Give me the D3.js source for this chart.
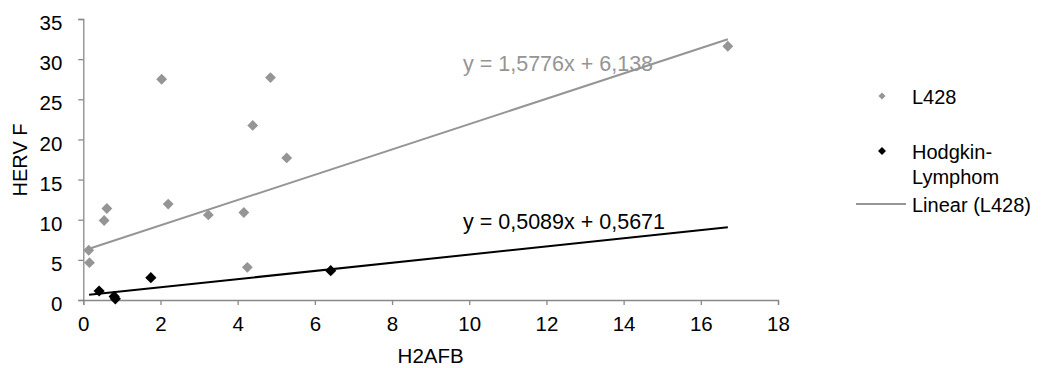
<!DOCTYPE html>
<html>
<head>
<meta charset="utf-8">
<script src="https://cdn.jsdelivr.net/npm/d3@7"></script>
<style>
  html, body { margin: 0; padding: 0; background: #fff; }
  svg { display: block; font-family: "Liberation Sans", Arial, sans-serif; }
</style>
</head>
<body>
<svg id="chart" width="1043" height="368"></svg>
<script>
// L428 cell line measurements
const l428X = [0.14, 0.16, 0.54, 0.61, 2.03, 2.2, 3.24, 4.16, 4.25, 4.39, 4.85, 5.27, 16.7];
const l428Y = [6.2, 4.65, 9.9, 11.4, 27.5, 11.95, 10.6, 10.9, 4.07, 21.75, 27.7, 17.7, 31.6];

// Hodgkin-Lymphom samples
const hodgkinX = [0.41, 0.8, 0.83, 1.75, 6.41];
const hodgkinY = [1.12, 0.45, 0.15, 2.78, 3.65];

// Linear trendlines: [slope, intercept] and drawn x-range
const l428Fit = [1.5776, 6.138];
const hodgkinFit = [0.5089, 0.5671];
const fitRange = [0.15, 16.7];

const xTicks = [0, 2, 4, 6, 8, 10, 12, 14, 16, 18];
const yTicks = [0, 5, 10, 15, 20, 25, 30, 35];

const legendLabels = ["L428", "Hodgkin-Lymphom", "Linear (L428)"];

const grey = "#959595";
const axisGrey = "#898989";

const svg = d3.select("#chart");

const x = d3.scaleLinear().domain([0, 18]).range([83.3, 778]);
const y = d3.scaleLinear().domain([0, 35]).range([300, 19]);

// Axes
const xAxis = svg.append("g")
  .attr("transform", `translate(0,${y(0)})`)
  .call(d3.axisBottom(x).tickValues(xTicks).tickSize(5).tickPadding(11).tickFormat(d3.format("d")));
const yAxis = svg.append("g")
  .attr("transform", `translate(${x(0)},0)`)
  .call(d3.axisLeft(y).tickValues(yTicks).tickSize(5).tickPadding(16).tickFormat(d3.format("d")));

[xAxis, yAxis].forEach(g => {
  g.select(".domain").attr("stroke", axisGrey).attr("stroke-width", 1.3);
  g.selectAll(".tick line").attr("stroke", axisGrey).attr("stroke-width", 1.3);
  g.selectAll(".tick text").attr("fill", "#000").style("font-size", "20.5px")
    .style("font-family", "'Liberation Sans', Arial, sans-serif");
});
yAxis.selectAll(".tick text").attr("dy", "0.52em");

// Axis titles
svg.append("text")
  .attr("x", x(9)).attr("y", 363)
  .attr("text-anchor", "middle")
  .style("font-size", "20.5px")
  .text("H2AFB");
svg.append("text")
  .attr("transform", `translate(27,160) rotate(-90)`)
  .attr("text-anchor", "middle")
  .style("font-size", "20px")
  .text("HERV F");

// Trendlines
function fitLine(fit, color) {
  const pts = fitRange.map(v => [x(v), y(fit[0] * v + fit[1])]);
  svg.append("path")
    .attr("d", d3.line()(pts))
    .attr("stroke", color)
    .attr("stroke-width", 2)
    .attr("fill", "none");
}
fitLine(l428Fit, grey);
fitLine(hodgkinFit, "#000");

// Markers
const diamond = d3.symbol().type(d3.symbolDiamond2);
function markers(xs, ys, color, size) {
  svg.append("g").selectAll("path")
    .data(xs.map((v, i) => [v, ys[i]]))
    .join("path")
    .attr("d", diamond.size(size)())
    .attr("transform", d => `translate(${x(d[0])},${y(d[1])})`)
    .attr("fill", color);
}
markers(l428X, l428Y, grey, 75);
markers(hodgkinX, hodgkinY, "#000", 80);

// Equation labels
const fmt = v => String(v).replace(".", ",");
svg.append("text")
  .attr("x", 463).attr("y", 71)
  .attr("fill", grey)
  .style("font-size", "21.5px")
  .text(`y = ${fmt(l428Fit[0])}x + ${fmt(l428Fit[1])}`);
svg.append("text")
  .attr("x", 463).attr("y", 229)
  .attr("fill", "#000")
  .style("font-size", "21.5px")
  .text(`y = ${fmt(hodgkinFit[0])}x + ${fmt(hodgkinFit[1])}`);

// Legend
const lg = svg.append("g");
lg.append("path").attr("d", diamond.size(32)()).attr("transform", "translate(882,96)").attr("fill", grey);
lg.append("text").attr("x", 912).attr("y", 97).attr("dy", "0.36em").style("font-size", "20px").text(legendLabels[0]);

lg.append("path").attr("d", diamond.size(40)()).attr("transform", "translate(882,151)").attr("fill", "#000");
const hl = lg.append("text").attr("x", 912).attr("y", 152).attr("dy", "0.36em").style("font-size", "20px");
hl.append("tspan").attr("x", 912).text("Hodgkin-");
hl.append("tspan").attr("x", 912).attr("dy", "1.25em").text("Lymphom");

lg.append("line").attr("x1", 856).attr("x2", 906).attr("y1", 204).attr("y2", 204)
  .attr("stroke", grey).attr("stroke-width", 2);
lg.append("text").attr("x", 912).attr("y", 205).attr("dy", "0.36em").style("font-size", "20px").text(legendLabels[2]);
</script>
</body>
</html>
